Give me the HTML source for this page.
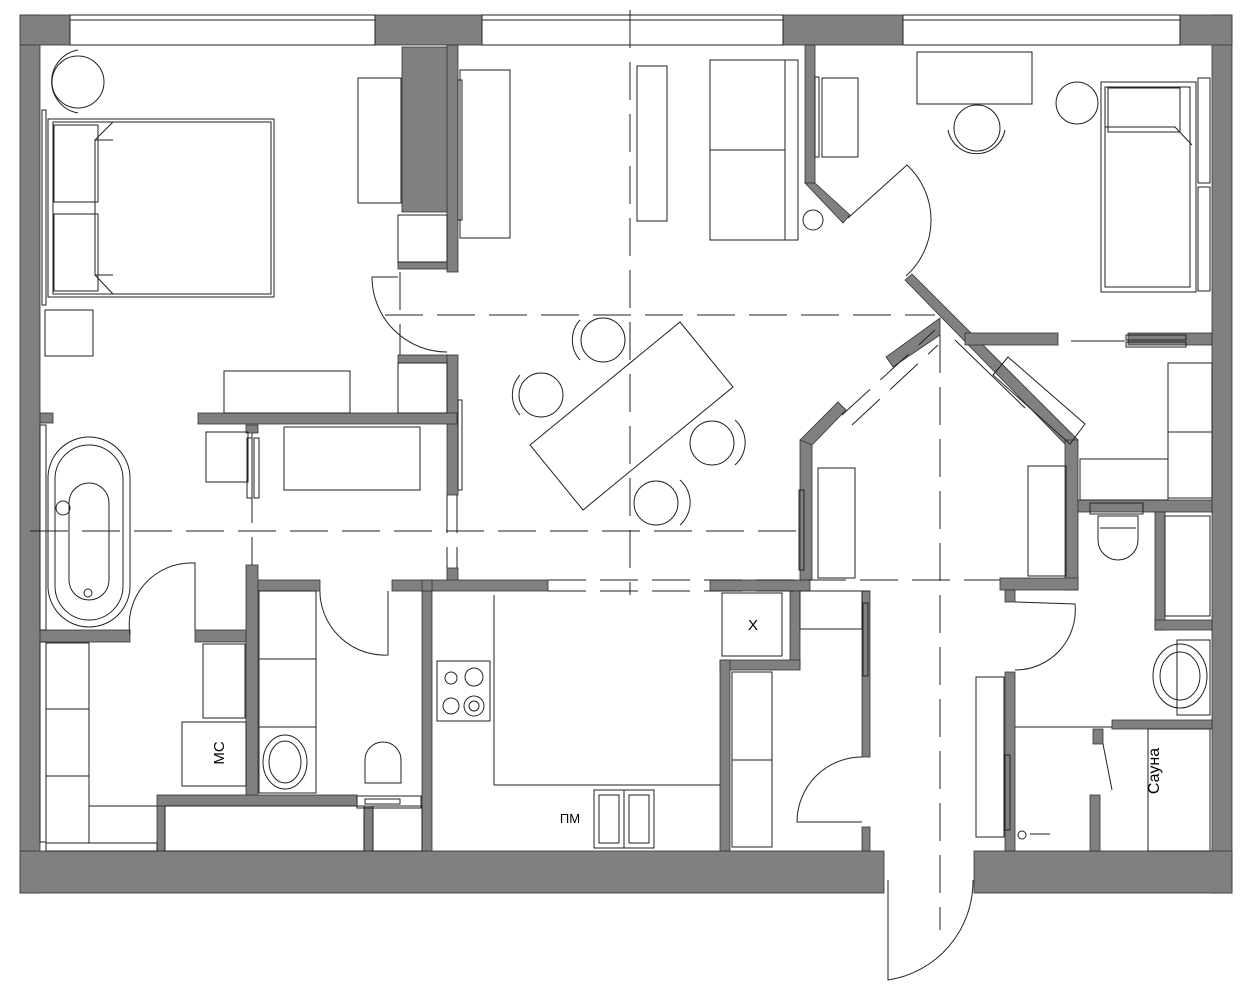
<!DOCTYPE html>
<html><head><meta charset="utf-8"><style>html,body{margin:0;padding:0;background:#fff}svg{display:block}</style></head><body>
<svg width="1249" height="1000" viewBox="0 0 1249 1000" xmlns="http://www.w3.org/2000/svg" font-family="Liberation Sans, sans-serif">
<g fill="#808080" stroke="#333" stroke-width="0.8">
<!-- outer walls -->
<rect x="20" y="15" width="20" height="878"/>
<rect x="1212" y="15" width="20" height="878"/>
<rect x="20" y="851" width="864" height="42"/>
<rect x="974" y="851" width="258" height="42"/>
<rect x="20" y="15" width="50" height="30"/>
<rect x="375" y="15" width="107" height="30"/>
<rect x="783" y="15" width="120" height="30"/>
<rect x="1180" y="15" width="52" height="30"/>
<!-- bedroom/living -->
<rect x="402" y="47" width="52" height="165"/>
<rect x="447" y="45" width="11" height="227"/>
<rect x="398" y="262" width="49" height="7"/>
<rect x="398" y="355" width="49" height="8"/>
<rect x="447" y="355" width="11" height="140"/>
<rect x="447" y="568" width="11" height="14"/>
<rect x="198" y="413" width="259" height="11"/>
<rect x="40" y="413" width="13" height="10"/>
<rect x="246" y="425" width="12" height="8"/>
<rect x="246" y="565" width="12" height="232"/>
<rect x="258" y="580" width="62" height="11"/>
<rect x="392" y="580" width="156" height="11"/>
<rect x="422" y="591" width="10" height="260"/>
<rect x="40" y="630" width="90" height="12"/>
<rect x="195" y="630" width="51" height="12"/>
<rect x="157" y="795" width="200" height="11"/>
<rect x="157" y="806" width="8" height="45"/>
<rect x="364" y="806" width="9" height="45"/>
<rect x="422" y="580" width="10" height="11"/>
<!-- kitchen/hall -->
<rect x="710" y="580" width="100" height="11"/>
<rect x="790" y="591" width="10" height="78"/>
<rect x="720" y="660" width="80" height="10"/>
<rect x="720" y="660" width="10" height="191"/>
<rect x="862" y="591" width="8" height="166"/>
<rect x="862" y="827" width="8" height="24"/>
<!-- child room pentagon -->
<rect x="800" y="440" width="12" height="140"/>
<polygon points="800,440 838,402 846,410 812,445"/>
<polygon points="886,357 940,318 940,335 893,367"/>
<polygon points="905,280 912,274 1078,440 1065,444"/>
<rect x="1065" y="440" width="13" height="150"/>
<rect x="1000" y="578" width="78" height="12"/>
<rect x="1005" y="590" width="10" height="12"/>
<rect x="1005" y="672" width="10" height="179"/>
<rect x="965" y="333" width="93" height="12"/>
<rect x="1128" y="333" width="84" height="12"/>
<!-- top middle wall -->
<rect x="805" y="45" width="10" height="138"/>
<polygon points="805,183 815,183 850,215 843,223"/>
<!-- bath unit right -->
<rect x="1078" y="500" width="134" height="12"/>
<rect x="1155" y="512" width="10" height="118"/>
<rect x="1155" y="620" width="57" height="10"/>
<rect x="1112" y="720" width="100" height="9"/>
<rect x="1090" y="795" width="10" height="56"/>
<rect x="1093" y="729" width="10" height="15"/>
</g>
<g fill="none" stroke="#222" stroke-width="1">
<!-- windows -->
<rect x="70" y="15" width="305" height="30" fill="#fff"/><line x1="70" y1="20" x2="375" y2="20"/>
<rect x="482" y="15" width="301" height="30" fill="#fff"/><line x1="482" y1="20" x2="783" y2="20"/>
<rect x="903" y="15" width="277" height="30" fill="#fff"/><line x1="903" y1="20" x2="1180" y2="20"/>
<!-- bedroom -->
<circle cx="78" cy="82" r="26"/><path d="M78,50 A32,32 0 0 0 78,113"/>
<rect x="48" y="119" width="226" height="178"/><rect x="53" y="122" width="218" height="172"/>
<rect x="54" y="125" width="44" height="77"/><rect x="54" y="214" width="44" height="77"/>
<path d="M113,122 L95,140 L95,275 L113,294 M95,140 L113,140 M95,275 L113,275"/>
<rect x="42" y="110" width="4" height="195"/>
<rect x="45" y="310" width="48" height="46"/>
<rect x="224" y="371" width="126" height="42"/>
<rect x="358" y="78" width="43" height="125"/>
<rect x="398" y="215" width="49" height="47"/>
<rect x="398" y="363" width="49" height="50"/>
<path d="M447,352 A75,75 0 0 1 372,277 L398,277"/>
<rect x="460" y="70" width="50" height="168"/>
<rect x="458" y="80" width="4" height="140"/>
<rect x="458" y="400" width="4" height="90"/>
<!-- living -->
<rect x="637" y="66" width="30" height="155"/>
<rect x="710" y="60" width="88" height="180"/><line x1="710" y1="150" x2="785" y2="150"/><line x1="785" y1="60" x2="785" y2="240"/>
<circle cx="813" cy="220" r="10"/>
<rect x="822" y="78" width="36" height="79"/><rect x="815" y="77" width="4" height="80"/>
<polygon points="530,445 680,322 733,387 583,510"/>
<circle cx="603" cy="340" r="22"/><path d="M580,320 A30,30 0 0 0 580,360"/>
<circle cx="541" cy="395" r="22"/><path d="M520,375 A30,30 0 0 0 520,415"/>
<circle cx="712" cy="443" r="22"/><path d="M735,420 A30,30 0 0 1 735,465"/>
<circle cx="656" cy="503" r="22"/><path d="M680,480 A30,30 0 0 1 680,525"/>
<path d="M848,218 L907,165 A75,75 0 0 1 906,276"/>
<!-- right room -->
<rect x="917" y="52" width="115" height="52"/>
<circle cx="977" cy="128" r="23"/><path d="M948,130 A29,29 0 0 0 1005,130"/>
<circle cx="1077" cy="103" r="21"/>
<rect x="1101" y="82" width="95" height="210"/><rect x="1105" y="87" width="85" height="200"/>
<path d="M1105,127 L1175,127 L1192,145"/><rect x="1108" y="88" width="72" height="44"/>
<rect x="1198" y="78" width="12" height="105"/><rect x="1198" y="187" width="12" height="104"/>
<rect x="1168" y="363" width="44" height="135"/><line x1="1168" y1="432" x2="1212" y2="432"/>
<rect x="1080" y="459" width="88" height="41"/>
<polygon points="1008,357 1085,424 1070,444 993,375"/>
<line x1="955" y1="340" x2="1025" y2="408"/>
<line x1="1071" y1="341" x2="1125" y2="341"/>
<rect x="1126" y="335" width="60" height="5"/><rect x="1126" y="342" width="60" height="5"/>
<!-- child room -->
<rect x="818" y="468" width="37" height="110"/>
<rect x="1028" y="466" width="38" height="110"/>
<rect x="799" y="490" width="5" height="80"/>
<!-- bath -->
<rect x="40" y="425" width="6" height="205"/>
<rect x="48" y="437" width="82" height="190" rx="41"/>
<rect x="55" y="445" width="68" height="175" rx="34"/>
<rect x="69" y="483" width="40" height="117" rx="20"/>
<circle cx="88" cy="593" r="4"/><circle cx="63" cy="508" r="7"/>
<path d="M130,635 A62,62 0 0 1 192,563 L195,563 L195,630"/>
<rect x="206" y="432" width="42" height="50"/>
<rect x="247" y="438" width="5" height="60"/><rect x="254" y="438" width="5" height="60"/>
<rect x="284" y="427" width="136" height="63"/>
<rect x="40" y="642" width="6" height="200"/>
<rect x="46" y="643" width="43" height="200"/><line x1="46" y1="709" x2="89" y2="709"/><line x1="46" y1="776" x2="89" y2="776"/>
<line x1="89" y1="806" x2="157" y2="806"/><rect x="46" y="843" width="111" height="8"/>
<rect x="203" y="644" width="42" height="74"/>
<rect x="182" y="722" width="64" height="64"/>
<text x="0" y="0" transform="translate(220,753) rotate(-90)" text-anchor="middle" font-size="15" fill="#000" stroke="none" dominant-baseline="middle">МС</text>
<!-- wc -->
<rect x="259" y="591" width="57" height="202"/><line x1="259" y1="659" x2="316" y2="659"/><line x1="259" y1="727" x2="316" y2="727"/>
<ellipse cx="285" cy="762" rx="22" ry="27"/><ellipse cx="285" cy="762" rx="16" ry="21"/>
<path d="M365,783 L365,760 A18,18 0 0 1 401,760 L401,783 Z"/><line x1="365" y1="783" x2="401" y2="783"/>
<rect x="357" y="796" width="64" height="12"/><rect x="365" y="799" width="35" height="5"/>
<path d="M320,591 L320,595 A65,65 0 0 0 388,655 L388,591"/>
<rect x="165" y="806" width="199" height="45"/><rect x="373" y="806" width="49" height="45"/>
<!-- kitchen -->
<line x1="494" y1="595" x2="494" y2="785"/><line x1="494" y1="785" x2="720" y2="785"/>
<rect x="437" y="661" width="53" height="60"/>
<circle cx="474" cy="677" r="9"/><circle cx="451" cy="706" r="8"/><circle cx="474" cy="706" r="10"/><circle cx="474" cy="706" r="5"/><circle cx="451" cy="678" r="6"/>
<rect x="594" y="790" width="60" height="58"/><line x1="624" y1="790" x2="624" y2="848"/><rect x="599" y="795" width="20" height="48"/><rect x="629" y="795" width="20" height="48"/>
<rect x="722" y="593" width="60" height="63"/>
<rect x="732" y="672" width="40" height="175"/><line x1="732" y1="760" x2="772" y2="760"/>
<rect x="800" y="591" width="62" height="38"/>
<rect x="863" y="603" width="5" height="73"/>
<path d="M862,757 A65,65 0 0 0 797,822 L862,822"/>
<path d="M888,880 L888,980 A100,100 0 0 0 973,880"/>
<!-- right bath -->
<path d="M1098,516 L1098,540 A20,20 0 0 0 1138,540 L1138,516 Z"/><line x1="1100" y1="528" x2="1136" y2="528"/>
<rect x="1090" y="503" width="53" height="11"/>
<rect x="1165" y="516" width="45" height="100"/>
<path d="M1015,602 L1075,604 A60,60 0 0 1 1015,670"/>
<rect x="1177" y="640" width="33" height="75"/>
<ellipse cx="1180" cy="676" rx="27" ry="32"/><ellipse cx="1180" cy="676" rx="20" ry="24"/>
<rect x="976" y="677" width="28" height="160"/><rect x="1005" y="755" width="5" height="75"/>
<line x1="1015" y1="727" x2="1112" y2="727"/>
<path d="M1103,744 L1112,790"/>
<rect x="1148" y="729" width="62" height="122"/><line x1="1148" y1="729" x2="1148" y2="851"/>
<circle cx="1022" cy="835" r="4"/><line x1="1030" y1="834" x2="1050" y2="834"/>
</g>
<text x="0" y="0" transform="translate(1155,771) rotate(-90)" text-anchor="middle" font-size="16" fill="#000" dominant-baseline="middle">Сауна</text>
<text x="753" y="630" text-anchor="middle" font-size="15" fill="#000">Х</text>
<text x="570" y="823" text-anchor="middle" font-size="13" fill="#000">ПМ</text>
<g stroke="#222" stroke-width="1" stroke-dasharray="38,14" fill="none">
<line x1="630" y1="10" x2="630" y2="595"/>
<line x1="385" y1="315" x2="935" y2="315"/>
<line x1="30" y1="531" x2="800" y2="531"/>
<line x1="940" y1="335" x2="940" y2="930"/>
<line x1="548" y1="580" x2="1000" y2="580"/>
<line x1="548" y1="591" x2="870" y2="591"/>
<line x1="842" y1="415" x2="935" y2="330"/>
<line x1="852" y1="425" x2="938" y2="345"/>
<line x1="447" y1="495" x2="447" y2="568"/><line x1="457" y1="495" x2="457" y2="568"/>
<line x1="400" y1="272" x2="400" y2="355"/>
<line x1="252" y1="433" x2="252" y2="565"/>
</g>
</svg>
</body></html>
